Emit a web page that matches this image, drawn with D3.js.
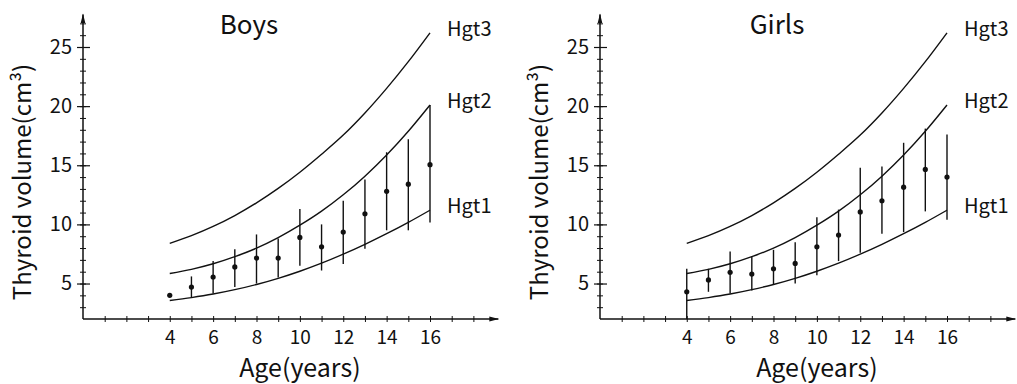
<!DOCTYPE html>
<html>
<head>
<meta charset="utf-8">
<script src="https://cdn.jsdelivr.net/npm/d3@7"></script>
<style>
  body { margin: 0; background: #fff; }
  svg text { font-family: "Noto Sans CJK JP", "Noto Sans", sans-serif; fill: #111; }
</style>
</head>
<body>
<div id="chart"></div>
<script>
// ages on the x axis
const ages = [4, 5, 6, 7, 8, 9, 10, 11, 12, 13, 14, 15, 16];

// reference curves (same in both panels)
const hgt1 = [3.56, 3.81, 4.11, 4.48, 4.92, 5.44, 6.04, 6.72, 7.48, 8.31, 9.21, 10.17, 11.2];
const hgt2 = [5.85, 6.2, 6.67, 7.27, 7.99, 8.88, 9.93, 11.12, 12.5, 14.08, 15.87, 17.88, 20.1];
const hgt3 = [8.4, 9.05, 9.83, 10.75, 11.82, 13.04, 14.41, 15.93, 17.55, 19.42, 21.5, 23.76, 26.2];
const curveNames = ["Hgt1", "Hgt2", "Hgt3"];

// boys: mean and range
const boysMean = [4.0, 4.7, 5.55, 6.4, 7.15, 7.15, 8.9, 8.1, 9.35, 10.9, 12.8, 13.4, 15.05];
const boysHigh = [null, 5.6, 6.9, 7.9, 9.15, 8.8, 11.3, 10.0, 12.0, 13.8, 16.1, 17.2, 20.1];
const boysLow = [null, 3.85, 4.15, 4.7, 5.0, 5.5, 6.5, 6.1, 6.65, 7.95, 9.5, 9.5, 10.15];

// girls: mean and range
const girlsMean = [4.3, 5.3, 5.95, 5.8, 6.25, 6.7, 8.1, 9.1, 11.05, 12.0, 13.15, 14.65, 14.0];
const girlsHigh = [6.25, 6.25, 7.7, 7.3, 7.85, 8.5, 10.6, 11.25, 14.8, 14.9, 16.9, 18.1, 17.6];
const girlsLow = [2, 4.3, 4.15, 4.4, 4.9, 5.0, 5.7, 6.9, 7.6, 9.2, 9.35, 11.1, 10.4];

// tick labels
const xLabels = [4, 6, 8, 10, 12, 14, 16];
const yLabels = [5, 10, 15, 20, 25];

const width = 1017, height = 384;

const svg = d3.select("#chart")
  .append("svg")
  .attr("width", width)
  .attr("height", height);

// small arrow head for the axes
svg.append("defs").append("marker")
  .attr("id", "arrow")
  .attr("viewBox", "0 0 10 6")
  .attr("refX", 9)
  .attr("refY", 3)
  .attr("markerWidth", 10)
  .attr("markerHeight", 6)
  .attr("markerUnits", "userSpaceOnUse")
  .attr("orient", "auto")
  .append("path")
  .attr("d", "M0,0.6 L10,3 L0,5.4 Z")
  .attr("fill", "#111");

function drawPanel(left, title, mean, high, low) {
  const x = d3.scaleLinear().domain([0, 16]).range([left, left + 347]);
  const y = d3.scaleLinear().domain([2, 25]).range([319, 47]);

  const g = svg.append("g");

  // axis lines with arrows
  g.append("line")
    .attr("x1", x(0)).attr("x2", x(19.15))
    .attr("y1", y(2)).attr("y2", y(2))
    .attr("stroke", "#111").attr("stroke-width", 1.5)
    .attr("marker-end", "url(#arrow)");
  g.append("line")
    .attr("x1", x(0)).attr("x2", x(0))
    .attr("y1", y(2)).attr("y2", y(27.75))
    .attr("stroke", "#111").attr("stroke-width", 1.5)
    .attr("marker-end", "url(#arrow)");

  // x minor ticks (crossing the axis)
  const xMinor = g.append("g")
    .attr("transform", `translate(0,${y(2)})`)
    .call(d3.axisBottom(x).tickValues(d3.range(1, 19)).tickSize(0).tickFormat(""));
  xMinor.select(".domain").remove();
  xMinor.selectAll(".tick line").attr("y1", -3).attr("y2", 3).attr("stroke", "#111");

  // x tick labels
  const xAxis = g.append("g")
    .attr("transform", `translate(0,${y(2)})`)
    .call(d3.axisBottom(x).tickValues(xLabels).tickSize(0).tickPadding(12));
  xAxis.select(".domain").remove();
  xAxis.selectAll("text").attr("font-size", 19);

  // y minor ticks
  const yMinor = g.append("g")
    .attr("transform", `translate(${x(0)},0)`)
    .call(d3.axisLeft(y).tickValues(d3.range(3, 28)).tickSize(0).tickFormat(""));
  yMinor.select(".domain").remove();
  yMinor.selectAll(".tick line").attr("x1", -3).attr("x2", 3).attr("stroke", "#111");

  // y major ticks and labels
  const yAxis = g.append("g")
    .attr("transform", `translate(${x(0)},0)`)
    .call(d3.axisLeft(y).tickValues(yLabels).tickSize(0).tickPadding(11));
  yAxis.select(".domain").remove();
  yAxis.selectAll(".tick line").attr("x1", -6).attr("x2", 7).attr("stroke", "#111").attr("stroke-width", 1.2);
  yAxis.selectAll("text").attr("font-size", 20);

  // reference curves
  const line = d3.line()
    .x((d, i) => x(ages[i]))
    .y(d => y(d))
    .curve(d3.curveMonotoneX);

  [hgt1, hgt2, hgt3].forEach((c, k) => {
    g.append("path")
      .attr("d", line(c))
      .attr("fill", "none")
      .attr("stroke", "#111")
      .attr("stroke-width", 1.4);
    g.append("text")
      .attr("x", x(16) + 17)
      .attr("y", y(c[c.length - 1]) + 3)
      .attr("font-size", 20)
      .text(curveNames[k]);
  });

  // range bars
  g.selectAll(".bar")
    .data(ages.filter((a, i) => high[i] != null))
    .enter()
    .append("line")
    .attr("x1", a => x(a)).attr("x2", a => x(a))
    .attr("y1", a => y(high[ages.indexOf(a)]))
    .attr("y2", a => y(low[ages.indexOf(a)]))
    .attr("stroke", "#111")
    .attr("stroke-width", 1.4);

  // mean dots
  g.selectAll(".dot")
    .data(ages)
    .enter()
    .append("circle")
    .attr("cx", a => x(a))
    .attr("cy", (a, i) => y(mean[i]))
    .attr("r", 2.6)
    .attr("fill", "#111");

  // title
  g.append("text")
    .attr("x", title == "Boys" ? left + 166 : left + 177)
    .attr("y", 34)
    .attr("text-anchor", "middle")
    .attr("font-size", 26)
    .text(title);

  // axis titles
  g.append("text")
    .attr("x", x(10))
    .attr("y", 377)
    .attr("text-anchor", "middle")
    .attr("font-size", 25)
    .text("Age(years)");

  g.append("text")
    .attr("transform", `translate(${left - 52},${182}) rotate(-90)`)
    .attr("text-anchor", "middle")
    .attr("font-size", 24)
    .text("Thyroid volume(cm³)");
}

drawPanel(83, "Boys", boysMean, boysHigh, boysLow);
drawPanel(600, "Girls", girlsMean, girlsHigh, girlsLow);
</script>
</body>
</html>
